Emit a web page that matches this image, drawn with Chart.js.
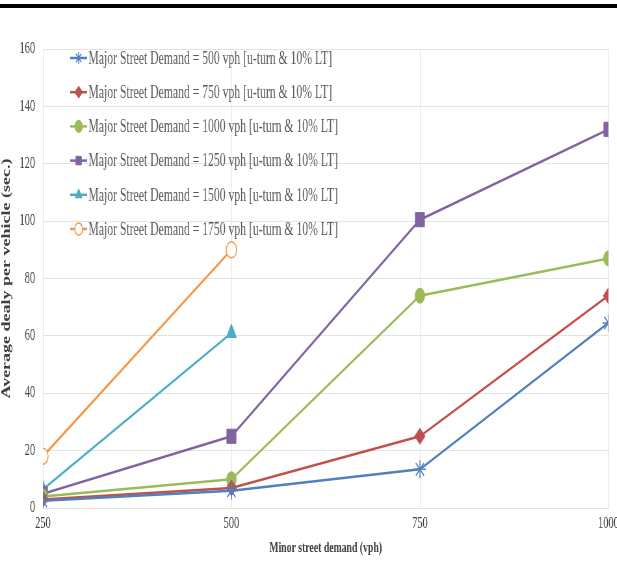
<!DOCTYPE html>
<html>
<head>
<meta charset="utf-8">
<script src="https://cdn.jsdelivr.net/npm/chart.js@4"></script>
<style>
  html, body { margin: 0; padding: 0; background: #fff; overflow: hidden; }
  #page { position: relative; width: 617px; height: 565px; overflow: hidden; }
  #rule { position: absolute; left: 0; top: 4px; width: 617px; height: 4px; background: #000; }
  #wrap { position: absolute; left: 0; top: 0; width: 958px; height: 565px; transform: scaleX(0.65); transform-origin: 0 0; }
</style>
</head>
<body>
<div id="page">
  <div id="rule"></div>
  <div id="wrap"><canvas id="c" width="958" height="565"></canvas></div>
</div>
<script>
const minorDemand = [250, 500, 750, 1000];
const yTicks = [0, 20, 40, 60, 80, 100, 120, 140, 160];

const major500 = [2.5, 6, 13.5, 64.5];
const major750 = [3, 7, 25, 74];
const major1000 = [4, 10, 74, 87];
const major1250 = [5, 25, 100.5, 132];
const major1500 = [6.5, 61];
const major1750 = [18, 90];

const labels = [
  'Major Street Demand = 500 vph [u-turn & 10% LT]',
  'Major Street Demand = 750 vph [u-turn & 10% LT]',
  'Major Street Demand = 1000 vph [u-turn & 10% LT]',
  'Major Street Demand = 1250 vph [u-turn & 10% LT]',
  'Major Street Demand = 1500 vph [u-turn & 10% LT]',
  'Major Street Demand = 1750 vph [u-turn & 10% LT]'
];

const SERIF = "'Liberation Serif', 'Times New Roman', serif";
const pts = vals => vals.map((v, i) => ({ x: minorDemand[i], y: v }));

function series(i, vals, color, style, radius, hollow) {
  return {
    label: labels[i],
    data: pts(vals),
    borderColor: color,
    backgroundColor: hollow ? 'rgba(0,0,0,0)' : color,
    borderWidth: 2.5,
    pointStyle: style,
    pointRadius: radius,
    pointHoverRadius: radius,
    pointBorderWidth: hollow ? 1.5 : (style === 'star' ? 1.5 : 1),
    pointBackgroundColor: hollow ? '#fff' : color,
    pointBorderColor: color,
    tension: 0
  };
}

const datasets = [
  series(0, major500, '#4F81BD', 'star', 9),
  series(1, major750, '#C0504D', 'rectRot', 8),
  series(2, major1000, '#9BBB59', 'circle', 7.5),
  series(3, major1250, '#8064A2', 'rect', 10),
  series(4, major1500, '#4BACC6', 'triangle', 9),
  series(5, major1750, '#F79646', 'circle', 8, true)
];

// legend sits inside the plot, top left, like the original
const innerLegend = {
  id: 'innerLegend',
  afterDatasetsDraw(chart) {
    const ctx = chart.ctx;
    const area = chart.chartArea;
    ctx.save();
    chart.data.datasets.forEach((ds, i) => {
      const y = 58 + i * 34.2;
      const x0 = area.left + 42;
      ctx.strokeStyle = ds.borderColor;
      ctx.lineWidth = 2.5;
      ctx.beginPath();
      ctx.moveTo(x0, y);
      ctx.lineTo(x0 + 26, y);
      ctx.stroke();
      ctx.fillStyle = ds.pointBackgroundColor;
      ctx.strokeStyle = ds.borderColor;
      ctx.lineWidth = ds.pointBorderWidth;
      Chart.helpers.drawPoint(ctx, { pointStyle: ds.pointStyle, radius: 6, borderWidth: ds.pointBorderWidth, rotation: 0 }, x0 + 13, y);
      ctx.fillStyle = '#595959';
      ctx.font = '18px ' + SERIF;
      ctx.textBaseline = 'middle';
      ctx.textAlign = 'left';
      ctx.fillText(ds.label, x0 + 28, y + 1);
    });
    ctx.restore();
  }
};

new Chart(document.getElementById('c'), {
  type: 'line',
  data: { datasets },
  plugins: [innerLegend],
  options: {
    responsive: false,
    animation: false,
    devicePixelRatio: 1,
    layout: { padding: { top: 49, right: 0, bottom: 0, left: 0 } },
    plugins: { legend: { display: false }, tooltip: { enabled: false } },
    scales: {
      x: {
        type: 'linear',
        min: minorDemand[0],
        max: minorDemand[minorDemand.length - 1],
        afterBuildTicks: s => { s.ticks = minorDemand.map(v => ({ value: v })); },
        afterFit: s => { s.height = 57; },
        grid: { color: '#e3e3e3', lineWidth: 1, drawTicks: false },
        border: { color: '#e3e3e3' },
        ticks: { color: '#404040', font: { family: SERIF, size: 16 }, padding: 6, maxRotation: 0, callback: v => String(v) },
        title: { display: true, text: 'Minor street demand (vph)', color: '#404040', font: { family: SERIF, size: 15, weight: 'bold' }, padding: { top: 0, bottom: 8 } }
      },
      y: {
        min: 0,
        max: 160,
        afterBuildTicks: s => { s.ticks = yTicks.map(v => ({ value: v })); },
        afterFit: s => { s.width = 66; },
        grid: { color: '#e3e3e3', lineWidth: 1, drawTicks: false },
        border: { color: '#e3e3e3' },
        ticks: { color: '#404040', font: { family: SERIF, size: 16 }, padding: 12 },
        title: { display: true, text: 'Average dealy per vehicle (sec.)', color: '#404040', font: { family: SERIF, size: 18, weight: 'bold' }, padding: { top: 0, bottom: 0 } }
      }
    }
  }
});
</script>
</body>
</html>
